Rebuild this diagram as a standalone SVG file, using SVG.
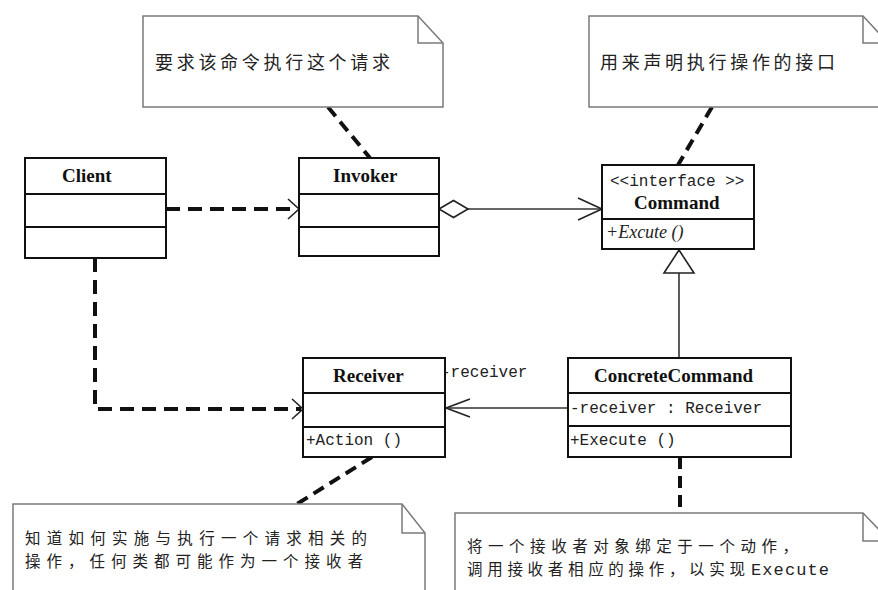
<svg xmlns="http://www.w3.org/2000/svg" width="878" height="590" viewBox="0 0 878 590">
<style>
.box{fill:#fff;stroke:#111;stroke-width:2}
.div{stroke:#111;stroke-width:2}
.note{fill:#fff;stroke:#7a7a7a;stroke-width:1.5}
.fold{fill:none;stroke:#7a7a7a;stroke-width:1.5}
.dash{fill:none;stroke:#111;stroke-width:4;stroke-dasharray:14 8}
.ndash{fill:none;stroke:#111;stroke-width:4;stroke-dasharray:12 7}
.solid{fill:none;stroke:#333;stroke-width:1.6}
.head{fill:none;stroke:#222;stroke-width:1.6}
.name{font-family:"Liberation Serif",serif;font-weight:bold;font-size:19px;fill:#111}
.mono{font-family:"Liberation Mono",monospace;font-size:16px;fill:#222}
.ital{font-family:"Liberation Serif",serif;font-style:italic;font-size:18px;fill:#222}
.cjk{font-family:"Noto Sans CJK SC",sans-serif;font-size:18px;fill:#222}
.cjk2{font-family:"Noto Sans CJK SC",sans-serif;font-size:15.5px;fill:#222}
</style>
<rect width="878" height="590" fill="#fff"/>

<g id="connectors">
  <path class="ndash" d="M328,107 L370,158"/>
  <path class="ndash" d="M712,107 L678,165"/>
  <path class="ndash" d="M372,457 L297,504"/>
  <path class="ndash" d="M680,457 L680,513"/>
  <path class="dash" d="M166,209 H297"/>
  <path class="head" d="M288,199 L299,209 L288,219"/>
  <path class="dash" d="M95,258 V409 H301"/>
  <path class="head" d="M292,399 L303,409 L292,419"/>
  <path class="solid" d="M468,209 H602"/>
  <path d="M439,209 L453.5,200.5 L468,209 L453.5,217.5 Z" fill="#fff" stroke="#222" stroke-width="1.6"/>
  <path class="head" d="M578,198 L602,209 L578,220"/>
  <path class="solid" d="M679,273 V358"/>
  <path d="M679,250 L694,273 L664,273 Z" fill="#fff" stroke="#222" stroke-width="1.6"/>
  <path class="solid" d="M568,408 H446"/>
  <path class="head" d="M470,399 L446,408 L470,417"/>
  <text class="mono" x="441" y="377">-receiver</text>
</g>

<g id="note-invoker">
  <path class="note" d="M143,16 H418 L443,43 V107 H143 Z"/>
  <path class="fold" d="M418,16 V43 H443"/>
  <text class="cjk" x="155" y="69" textLength="235" lengthAdjust="spacing">要求该命令执行这个请求</text>
</g>

<g id="note-command">
  <path class="note" d="M589,16 H863 L890,45 V107 H589 Z"/>
  <path class="fold" d="M863,16 V43 H890"/>
  <text class="cjk" x="600" y="69" textLength="235" lengthAdjust="spacing">用来声明执行操作的接口</text>
</g>

<g id="note-receiver">
  <path class="note" d="M13,504 H402 L425,533 V600 H13 Z"/>
  <path class="fold" d="M402,504 V533 H425"/>
  <text class="cjk2" x="25" y="544" textLength="342" lengthAdjust="spacing">知道如何实施与执行一个请求相关的</text>
  <text class="cjk2" x="25" y="567" textLength="338" lengthAdjust="spacing">操作，任何类都可能作为一个接收者</text>
</g>

<g id="note-concrete">
  <path class="note" d="M455,513 H863 L890,541 V600 H455 Z"/>
  <path class="fold" d="M863,513 V541 H890"/>
  <text class="cjk2" x="467" y="552" textLength="331" lengthAdjust="spacing">将一个接收者对象绑定于一个动作，</text>
  <text class="cjk2" x="467" y="575" textLength="278" lengthAdjust="spacing">调用接收者相应的操作，以实现</text>
  <text x="751" y="575" textLength="78" lengthAdjust="spacing" style="font-family:'Liberation Mono',monospace;font-size:17px;fill:#222">Execute</text>
</g>

<g id="client">
  <rect class="box" x="25" y="158" width="141" height="100"/>
  <path class="div" d="M25,194 H166 M25,227 H166"/>
  <text class="name" x="62" y="182">Client</text>
</g>

<g id="invoker">
  <rect class="box" x="299" y="158" width="140" height="98"/>
  <path class="div" d="M299,194 H439 M299,227 H439"/>
  <text class="name" x="333" y="182">Invoker</text>
</g>

<g id="command">
  <rect class="box" x="602" y="165" width="152" height="84"/>
  <path class="div" d="M602,219 H754"/>
  <text class="mono" x="610" y="186">&lt;&lt;interface &gt;&gt;</text>
  <text class="name" x="634" y="209">Command</text>
  <text class="ital" x="606" y="238">+Excute ()</text>
</g>

<g id="receiver">
  <rect class="box" x="303" y="358" width="142" height="99"/>
  <path class="div" d="M303,393 H445 M303,427 H445"/>
  <text class="name" x="333" y="382">Receiver</text>
  <text class="mono" x="306" y="445">+Action ()</text>
</g>

<g id="concrete-command">
  <rect class="box" x="568" y="358" width="223" height="99"/>
  <path class="div" d="M568,393 H791 M568,426 H791"/>
  <text class="name" x="594" y="382">ConcreteCommand</text>
  <text class="mono" x="570" y="413">-receiver  : Receiver</text>
  <text class="mono" x="570" y="445">+Execute ()</text>
</g>
</svg>
